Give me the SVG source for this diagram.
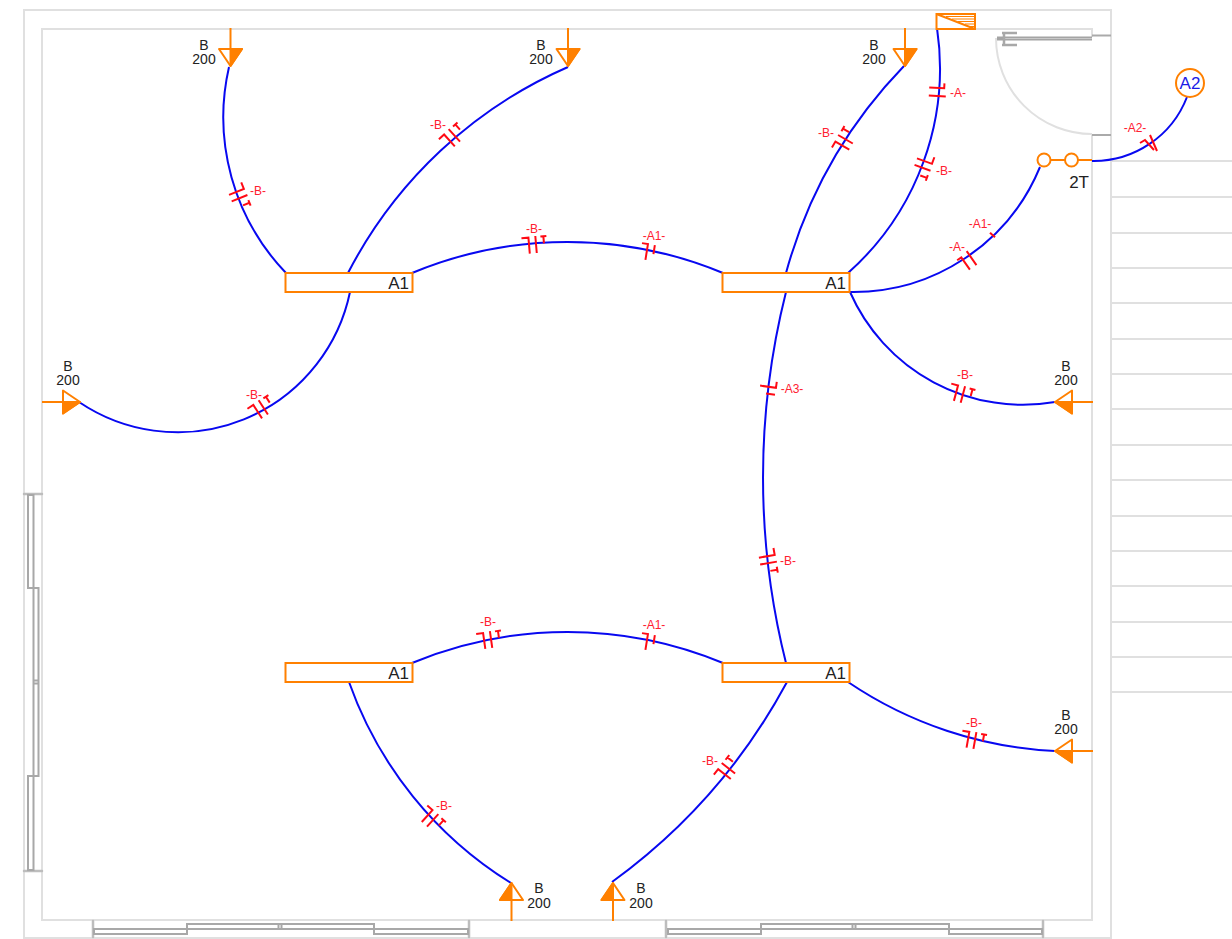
<svg xmlns="http://www.w3.org/2000/svg" width="1232" height="939" viewBox="0 0 1232 939">
<style>
.wall{fill:none;stroke:#e0e0e0;stroke-width:2}
.win{fill:none;stroke:#a8a8a8;stroke-width:2}
.cap{fill:none;stroke:#bdbdbd;stroke-width:2.500;stroke-linecap:round}
.wire{fill:none;stroke:#0808f0;stroke-width:2}
.or{fill:#fff;stroke:#ff8000;stroke-width:2}
.orl{fill:none;stroke:#ff8000;stroke-width:2}
.tick{fill:none;stroke:#ff0a14;stroke-width:2}
.tl{font:12px "Liberation Sans",Arial,sans-serif;fill:#ff2030;text-anchor:middle}
.lab{font:14px "Liberation Sans",Arial,sans-serif;fill:#222;text-anchor:middle}
.name{font:17px "Liberation Sans",Arial,sans-serif;fill:#222;text-anchor:end}
</style>
<defs>
<g id="lamp"><path class="orl" d="M0 -17V-38"/><path d="M-11.500 -17H11.500L0 0Z" fill="#fff" stroke="#ff8000" stroke-width="2" stroke-linejoin="round"/><path d="M0 -17H11.500L0 0Z" fill="#ff8000" stroke="#ff8000" stroke-width="2" stroke-linejoin="round"/></g>
<path id="tB" class="tick" d="M-14 -7H-7V9M0 -8V9M8 0V-7M5 -7H11"/>
<path id="tA1" class="tick" d="M-6 -6H0V10M7 -6V3"/>
<path id="tA" class="tick" d="M-9 -6H-4V9M4 -8V9"/>
<g id="a1box"><rect class="or" width="127" height="19"/></g>
</defs>
<g id="walls">
<rect class="wall" x="24" y="10" width="1087" height="928"/>
<path class="wall" d="M1092 37V29H42V920H1092V134"/>
<path class="wall" d="M1111 161H1232M1111 197H1232M1111 233H1232M1111 268H1232M1111 303H1232M1111 339H1232M1111 374H1232M1111 409H1232M1111 445H1232M1111 480H1232M1111 516H1232M1111 551H1232M1111 586H1232M1111 622H1232M1111 657H1232M1111 692H1232"/>
</g>
<g id="door">
<path class="wall" d="M996 38A96 96 0 0 0 1092 134"/>
<path d="M997 38.500H1092" fill="none" stroke="#a4a4a4" stroke-width="4"/>
<path d="M1003 38.500H1092" fill="none" stroke="#c8c8c8" stroke-width="1"/>
<path d="M1002 33H1017M1002 45H1017M1004 33V45" fill="none" stroke="#a8a8a8" stroke-width="2.500"/>
<path d="M1092 35.500H1111" fill="none" stroke="#aaa" stroke-width="2"/>
<path d="M1092 135H1111" fill="none" stroke="#aaa" stroke-width="2"/>
</g>
<g id="windows">
<path class="cap" d="M24 494H42M24 871H42M93 921V937M469 921V937M666 921V937M1043 921V937"/>
<path class="win" d="M28 495H33.500V588H28ZM33.500 588H38.500V776H33.500ZM28 776H33.500V870H28ZM33.500 680.500H38.500M33.500 683.500H38.500"/>
<path class="win" d="M94 929H187V934H94ZM187 924H374V929H187ZM374 929H468V934H374ZM278.500 924V929M281.500 924V929"/>
<path class="win" d="M668 929H761V934H668ZM761 924H949V929H761ZM949 929H1042V934H949ZM852.500 924V929M855.500 924V929"/>
</g>
<g id="connectors">
<path class="wire" d="M286 273A225 225 0 0 1 229 67"/>
<path class="wire" d="M348 273A450 450 0 0 1 568 67"/>
<path class="wire" d="M412 273A405 405 0 0 1 723 273"/>
<path class="wire" d="M412 663A405 405 0 0 1 723 663"/>
<path class="wire" d="M350 292A176 176 0 0 1 79 402"/>
<path class="wire" d="M786 273A480 480 0 0 1 904 66"/>
<path class="wire" d="M848 273A274 274 0 0 0 937 28"/>
<path class="wire" d="M850 292A202 202 0 0 0 1040 167"/>
<path class="wire" d="M850 292A189 189 0 0 0 1055 402"/>
<path class="wire" d="M786 292A760 760 0 0 0 786 663"/>
<path class="wire" d="M349 682A389 389 0 0 0 511 883"/>
<path class="wire" d="M787 682A596 596 0 0 1 612 882"/>
<path class="wire" d="M848 682A404 404 0 0 0 1055 751"/>
<path class="wire" d="M1092 161A100 100 0 0 0 1187 97"/>
</g>
<g id="ticks">
<use href="#tB" transform="translate(240 198) rotate(68)"/>
<use href="#tB" transform="translate(454 135) rotate(-42)"/>
<use href="#tB" transform="translate(536 244) rotate(-5)"/>
<use href="#tA1" transform="translate(647 250) rotate(9)"/>
<use href="#tB" transform="translate(491 639) rotate(-8)"/>
<use href="#tA1" transform="translate(647 640) rotate(9)"/>
<use href="#tB" transform="translate(263 407) rotate(-33)"/>
<use href="#tB" transform="translate(845 139) rotate(-60)"/>
<use href="#tA" transform="translate(938 92) rotate(93)"/>
<use href="#tB" transform="translate(923 168) rotate(110)"/>
<use href="#tA" transform="translate(968 260) rotate(-35)"/>
<path class="tick" d="M990 232.700L995 237.300"/>
<use href="#tB" transform="translate(963 394) rotate(15)"/>
<use href="#tA1" transform="translate(770 387) rotate(98)"/>
<use href="#tB" transform="translate(769 563) rotate(80)"/>
<use href="#tB" transform="translate(433 820) rotate(42)"/>
<use href="#tB" transform="translate(728 768) rotate(-52)"/>
<use href="#tB" transform="translate(975 740) rotate(10)"/>
<path class="tick" d="M1140 143L1145 140L1154 150M1150 135L1157 151"/>
</g>
<g id="tick-labels">
<text class="tl" x="258" y="195">-B-</text>
<text class="tl" x="438" y="129">-B-</text>
<text class="tl" x="534" y="233">-B-</text>
<text class="tl" x="654" y="240">-A1-</text>
<text class="tl" x="488" y="626">-B-</text>
<text class="tl" x="654" y="629">-A1-</text>
<text class="tl" x="254" y="399">-B-</text>
<text class="tl" x="826" y="137">-B-</text>
<text class="tl" x="958" y="97">-A-</text>
<text class="tl" x="944" y="175">-B-</text>
<text class="tl" x="980" y="228">-A1-</text>
<text class="tl" x="957" y="251">-A-</text>
<text class="tl" x="965" y="379">-B-</text>
<text class="tl" x="792" y="393">-A3-</text>
<text class="tl" x="788" y="565">-B-</text>
<text class="tl" x="444" y="810">-B-</text>
<text class="tl" x="710" y="765">-B-</text>
<text class="tl" x="974" y="727">-B-</text>
<text class="tl" x="1135" y="132">-A2-</text>
</g>
<g id="panel-A1-1"><use href="#a1box" x="285.500" y="273"/><text class="name" x="409" y="289">A1</text></g>
<g id="panel-A1-2"><use href="#a1box" x="722.500" y="273"/><text class="name" x="846" y="289">A1</text></g>
<g id="panel-A1-3"><use href="#a1box" x="285.500" y="663"/><text class="name" x="409" y="679">A1</text></g>
<g id="panel-A1-4"><use href="#a1box" x="722.500" y="663"/><text class="name" x="846" y="679">A1</text></g>
<g id="lamp-1"><use href="#lamp" transform="translate(230.500 66)"/><text class="lab" x="204" y="50">B</text><text class="lab" x="204" y="64">200</text></g>
<g id="lamp-2"><use href="#lamp" transform="translate(568 66)"/><text class="lab" x="541" y="50">B</text><text class="lab" x="541" y="64">200</text></g>
<g id="lamp-3"><use href="#lamp" transform="translate(905 66)"/><text class="lab" x="874" y="50">B</text><text class="lab" x="874" y="64">200</text></g>
<g id="lamp-4"><use href="#lamp" transform="translate(80 402) rotate(-90) scale(-1 1)"/><text class="lab" x="68" y="371">B</text><text class="lab" x="68" y="385">200</text></g>
<g id="lamp-5"><use href="#lamp" transform="translate(1055 402) rotate(90)"/><text class="lab" x="1066" y="371">B</text><text class="lab" x="1066" y="385">200</text></g>
<g id="lamp-6"><use href="#lamp" transform="translate(1055 751) rotate(90)"/><text class="lab" x="1066" y="720">B</text><text class="lab" x="1066" y="734">200</text></g>
<g id="lamp-7"><use href="#lamp" transform="translate(511.500 883) rotate(180)"/><text class="lab" x="539" y="893">B</text><text class="lab" x="539" y="908">200</text></g>
<g id="lamp-8"><use href="#lamp" transform="translate(613 883) rotate(180)"/><text class="lab" x="641" y="893">B</text><text class="lab" x="641" y="908">200</text></g>
<g id="board">
<rect class="or" x="936.500" y="14" width="38.500" height="15"/>
<path d="M936.500 14L975 29" class="orl"/>
<path d="M946 16.500H975M952 19H975M958 21.500H975M965 24H975M970 26.500H975" fill="none" stroke="#ff8000" stroke-width="1"/>
</g>
<g id="switch-2T">
<path class="orl" d="M1050 160H1065M1078 160H1092"/>
<circle class="or" cx="1044" cy="160" r="6.500"/>
<circle class="or" cx="1071.500" cy="160" r="6.500"/>
<text class="name" x="1089" y="188">2T</text>
</g>
<g id="A2">
<circle class="or" cx="1190" cy="83" r="14"/>
<text x="1190" y="89" text-anchor="middle" font-family="Liberation Sans, Arial, sans-serif" font-size="17" fill="#1a1ae6">A2</text>
</g>
</svg>
